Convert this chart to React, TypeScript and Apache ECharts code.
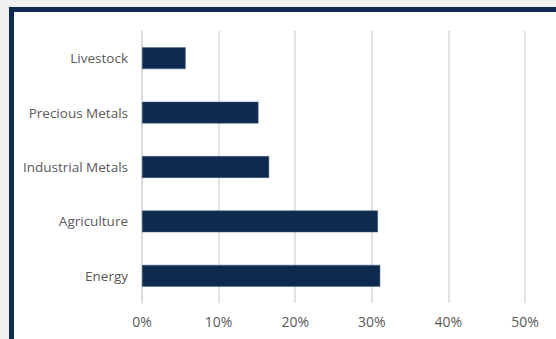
import React, { useEffect, useRef } from "react";
import * as echarts from "echarts";

const categories = ["Energy", "Agriculture", "Industrial Metals", "Precious Metals", "Livestock"];
const values = [31.1, 30.8, 16.6, 15.2, 5.7];
const xTicks = [0, 10, 20, 30, 40, 50];

export default function App() {
  const ref = useRef<HTMLDivElement>(null);
  useEffect(() => {
    document.body.style.margin = "0";
    const chart = echarts.init(ref.current!, null, { renderer: "svg" });
    chart.setOption({
      animation: false,
      grid: { left: 142, right: 31, top: 31, bottom: 36, containLabel: false },
      xAxis: {
        type: "value",
        min: xTicks[0],
        max: xTicks[xTicks.length - 1],
        interval: 10,
        axisLine: { show: false },
        axisTick: { show: false },
        splitLine: { show: true, lineStyle: { color: "#d9d9d9", width: 1.5 } },
        axisLabel: {
          formatter: (v: number) => v + "%",
          color: "#595959",
          fontFamily: "Open Sans",
          fontSize: 14,
          margin: 11,
        },
      },
      yAxis: {
        type: "category",
        data: categories,
        axisLine: { show: true, lineStyle: { color: "#d9d9d9", width: 1.5 } },
        axisTick: { show: false },
        axisLabel: {
          color: "#595959",
          fontFamily: "Open Sans",
          fontSize: 13.5,
          margin: 14,
        },
      },
      series: [
        {
          type: "bar",
          data: values,
          barWidth: "40%",
          itemStyle: { color: "#0f2a4f", borderColor: "#4a6080", borderWidth: 0.5 },
        },
      ],
    });
    return () => chart.dispose();
  }, []);
  return (
    <div style={{ position: "fixed", left: 0, top: 0, width: 556, height: 339, background: "#f0f0f0", overflow: "hidden" }}>
      <div
        style={{
          position: "absolute",
          left: 9,
          top: 7,
          right: 0,
          bottom: 0,
          background: "#ffffff",
          borderTop: "5px solid #0f2a4f",
          borderLeft: "5px solid #0f2a4f",
        }}
      />
      <div ref={ref} style={{ position: "absolute", left: 0, top: 0, width: 556, height: 339 }} />
    </div>
  );
}
